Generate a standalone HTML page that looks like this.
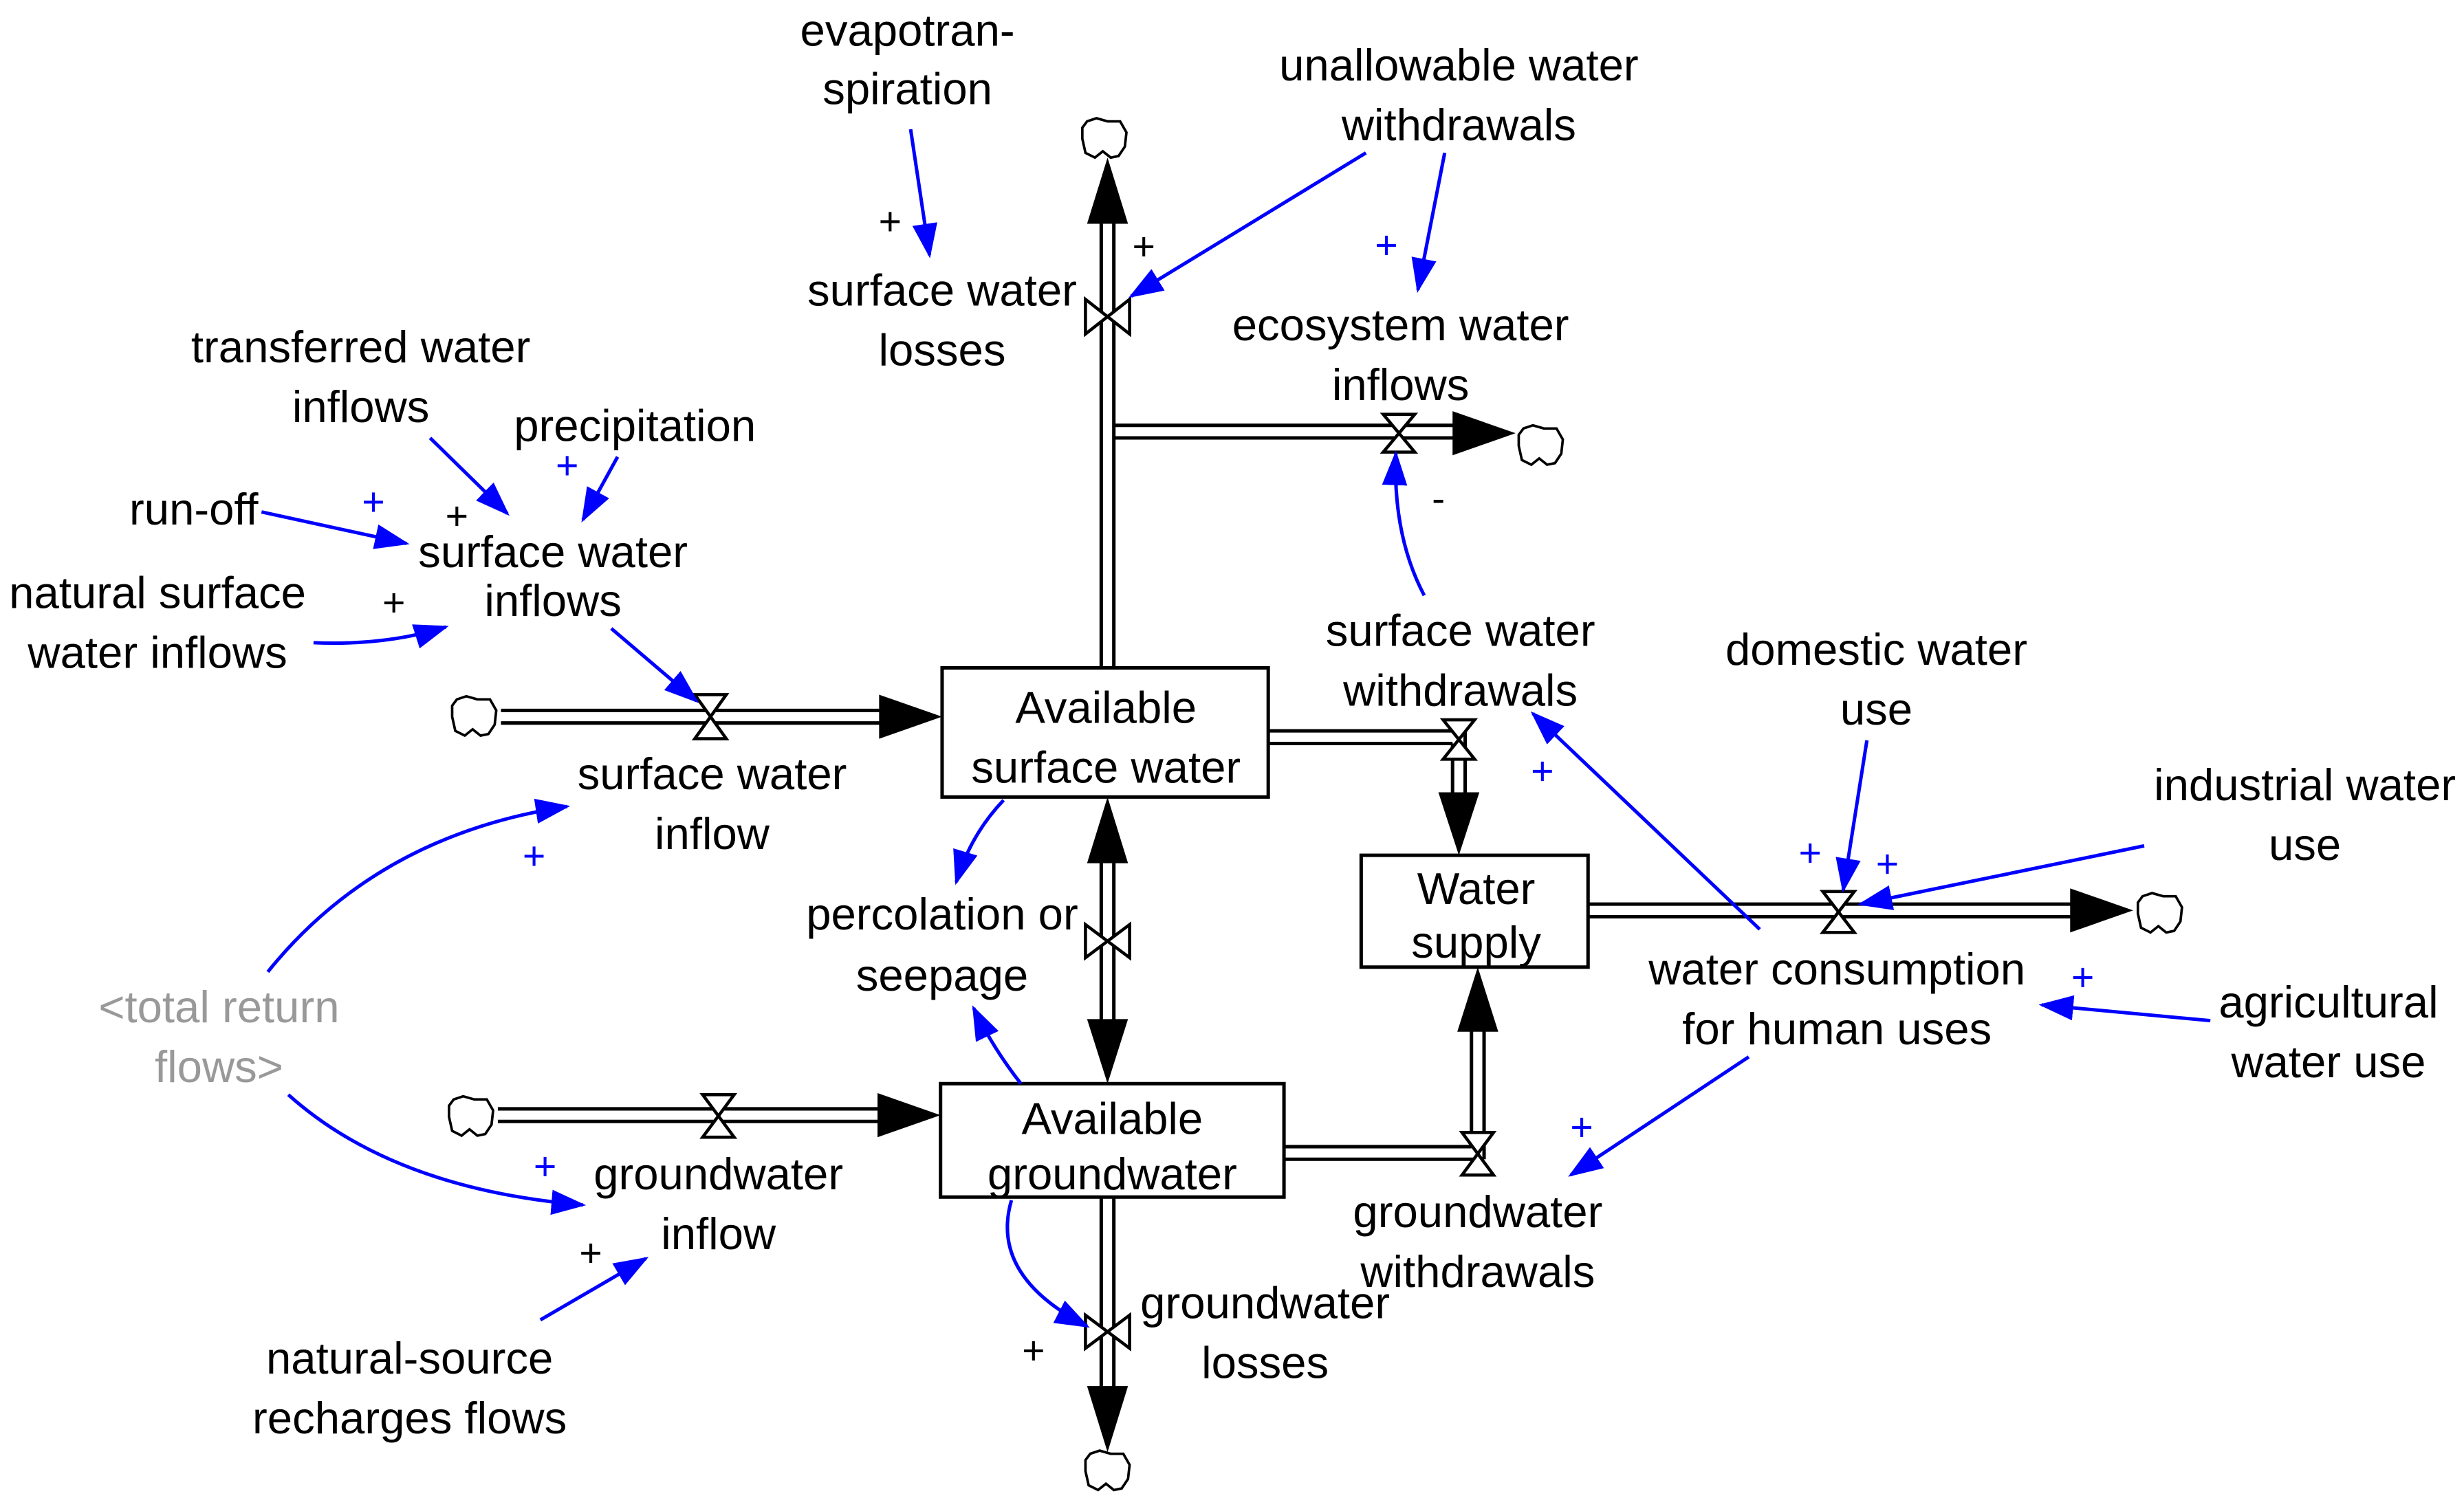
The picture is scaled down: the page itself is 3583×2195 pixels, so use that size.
<!DOCTYPE html>
<html><head><meta charset="utf-8"><style>
html,body{margin:0;padding:0;background:#fff;}
svg{display:block;}
text{font-family:"Liberation Sans",Arial,sans-serif;font-size:28.5px;fill:#000;text-anchor:middle;}
.b{fill:#00f;font-size:25px;}
.k{font-size:25px;}
.g{fill:#999;}
.p{stroke:#000;stroke-width:2.2;fill:none;}
.l{stroke:#00f;stroke-width:2.2;fill:none;}
.v{fill:#fff;stroke:#000;stroke-width:2;}
.c{fill:#fff;stroke:#000;stroke-width:1.6;}
</style></head><body>
<svg width="3583" height="2195" viewBox="0 0 1564 958" xmlns="http://www.w3.org/2000/svg">
<defs>
<marker id="ba" markerWidth="22" markerHeight="16" refX="20" refY="8" orient="auto" markerUnits="userSpaceOnUse">
<path d="M0,0 L22,8 L0,16 Z" fill="#00f"/></marker>
<path id="cl" d="M-11,-11 L-5,-13 L2,-11 L10,-11 L14,-4 L13,5 L9,11 L4,12 L-1,8 L-6,12 L-12,9 L-14,0 L-14,-7 Z"/>
</defs>

<g class="p">
<line x1="699" y1="424" x2="699" y2="140"/><line x1="707" y1="424" x2="707" y2="140"/>
<line x1="707" y1="270" x2="925" y2="270"/><line x1="707" y1="278" x2="925" y2="278"/>
<line x1="318" y1="451" x2="562" y2="451"/><line x1="318" y1="459" x2="562" y2="459"/>
<line x1="805" y1="464" x2="926" y2="464"/><line x1="805" y1="472" x2="922" y2="472"/>
<line x1="922" y1="472" x2="922" y2="508"/><line x1="930" y1="464" x2="930" y2="508"/>
<line x1="1008" y1="574" x2="1318" y2="574"/><line x1="1008" y1="582" x2="1318" y2="582"/>
<line x1="316" y1="704" x2="562" y2="704"/><line x1="316" y1="712" x2="562" y2="712"/>
<line x1="815" y1="728" x2="934" y2="728"/><line x1="815" y1="736" x2="942" y2="736"/>
<line x1="934" y1="728" x2="934" y2="652"/><line x1="942" y1="736" x2="942" y2="652"/>
<line x1="699" y1="545" x2="699" y2="650"/><line x1="707" y1="545" x2="707" y2="650"/>
<line x1="699" y1="760" x2="699" y2="882"/><line x1="707" y1="760" x2="707" y2="882"/>
</g>

<g fill="#000">
<path d="M703,100 L690,142 L716,142 Z"/>
<path d="M962,275 L922,261 L922,289 Z"/>
<path d="M598,455 L558,441 L558,469 Z"/>
<path d="M926,543 L913,503 L939,503 Z"/>
<path d="M1354,578 L1314,564 L1314,592 Z"/>
<path d="M597,708 L557,694 L557,722 Z"/>
<path d="M938,614 L925,655 L951,655 Z"/>
<path d="M703,506 L690,548 L716,548 Z"/>
<path d="M703,688 L690,647 L716,647 Z"/>
<path d="M703,922 L690,880 L716,880 Z"/>
</g>

<g class="c">
<use href="#cl" x="701" y="88"/>
<use href="#cl" x="978" y="283"/>
<use href="#cl" x="301" y="455"/>
<use href="#cl" x="1371" y="580"/>
<use href="#cl" x="299" y="709"/>
<use href="#cl" x="703" y="934"/>
</g>

<g class="v">
<path d="M689,190 L717,212 L717,190 L689,212 Z"/>
<path d="M878,263 L898,263 L878,287 L898,287 Z"/>
<path d="M441,441 L461,441 L441,469 L461,469 Z"/>
<path d="M916,457 L936,457 L916,482 L936,482 Z"/>
<path d="M1157,566 L1177,566 L1157,592 L1177,592 Z"/>
<path d="M446,695 L466,695 L446,722 L466,722 Z"/>
<path d="M928,719 L948,719 L928,746 L948,746 Z"/>
<path d="M689,587 L717,608 L717,587 L689,608 Z"/>
<path d="M689,835 L717,856 L717,835 L689,856 Z"/>
</g>

<g fill="#fff" stroke="#000" stroke-width="2.2">
<rect x="598" y="424" width="207" height="82"/>
<rect x="864" y="543" width="144" height="71"/>
<rect x="597" y="688" width="218" height="72"/>
</g>
<text x="702" y="459">Available</text><text x="702" y="497">surface water</text>
<text x="937" y="574">Water</text><text x="937" y="608">supply</text>
<text x="706" y="720">Available</text><text x="706" y="755">groundwater</text>

<g class="l">
<path d="M578,82 L590,162" marker-end="url(#ba)"/>
<path d="M867,97 L718,188" marker-end="url(#ba)"/>
<path d="M917,97 L900,184" marker-end="url(#ba)"/>
<path d="M904,378 Q884,340 886,288" marker-end="url(#ba)"/>
<path d="M273,278 L322,326" marker-end="url(#ba)"/>
<path d="M392,290 L370,330" marker-end="url(#ba)"/>
<path d="M166,325 L258,345" marker-end="url(#ba)"/>
<path d="M199,408 Q245,410 283,398" marker-end="url(#ba)"/>
<path d="M388,399 L442,445" marker-end="url(#ba)"/>
<path d="M170,617 Q240,530 360,512" marker-end="url(#ba)"/>
<path d="M183,695 Q250,755 370,765" marker-end="url(#ba)"/>
<path d="M343,838 L410,799" marker-end="url(#ba)"/>
<path d="M637,508 Q616,530 607,560" marker-end="url(#ba)"/>
<path d="M648,688 Q630,665 618,640" marker-end="url(#ba)"/>
<path d="M642,762 Q628,810 690,842" marker-end="url(#ba)"/>
<path d="M1117,590 L973,453" marker-end="url(#ba)"/>
<path d="M1185,470 L1170,565" marker-end="url(#ba)"/>
<path d="M1361,537 L1181,574" marker-end="url(#ba)"/>
<path d="M1403,648 L1296,638" marker-end="url(#ba)"/>
<path d="M1110,671 L997,746" marker-end="url(#ba)"/>
</g>

<text class="k" x="565" y="149">+</text>
<text class="k" x="726" y="165">+</text>
<text class="b" x="880" y="164">+</text>
<text class="k" x="913" y="325">-</text>
<text class="b" x="360" y="304">+</text>
<text class="b" x="237" y="327">+</text>
<text class="k" x="290" y="336">+</text>
<text class="k" x="250" y="391">+</text>
<text class="b" x="339" y="552">+</text>
<text class="b" x="346" y="749">+</text>
<text class="k" x="375" y="804">+</text>
<text class="k" x="656" y="866">+</text>
<text class="b" x="979" y="498">+</text>
<text class="b" x="1149" y="550">+</text>
<text class="b" x="1198" y="557">+</text>
<text class="b" x="1322" y="629">+</text>
<text class="b" x="1004" y="724">+</text>

<text x="576" y="29">evapotran-</text><text x="576" y="66">spiration</text>
<text x="926" y="51">unallowable water</text><text x="926" y="89">withdrawals</text>
<text x="598" y="194">surface water</text><text x="598" y="232">losses</text>
<text x="889" y="216">ecosystem water</text><text x="889" y="254">inflows</text>
<text x="229" y="230">transferred water</text><text x="229" y="268">inflows</text>
<text x="403" y="280">precipitation</text>
<text x="123" y="333">run-off</text>
<text x="351" y="360">surface water</text><text x="351" y="391">inflows</text>
<text x="100" y="386">natural surface</text><text x="100" y="424">water inflows</text>
<text x="927" y="410">surface water</text><text x="927" y="448">withdrawals</text>
<text x="1191" y="422">domestic water</text><text x="1191" y="460">use</text>
<text x="452" y="501">surface water</text><text x="452" y="539">inflow</text>
<text x="1463" y="508">industrial water</text><text x="1463" y="546">use</text>
<text x="598" y="590">percolation or</text><text x="598" y="629">seepage</text>
<text x="1166" y="625">water consumption</text><text x="1166" y="663">for human uses</text>
<text class="g" x="139" y="649">&lt;total return</text><text class="g" x="139" y="687">flows&gt;</text>
<text x="1478" y="646">agricultural</text><text x="1478" y="684">water use</text>
<text x="456" y="755">groundwater</text><text x="456" y="793">inflow</text>
<text x="938" y="779">groundwater</text><text x="938" y="817">withdrawals</text>
<text x="803" y="837">groundwater</text><text x="803" y="875">losses</text>
<text x="260" y="872">natural-source</text><text x="260" y="910">recharges flows</text>
</svg>
</body></html>
